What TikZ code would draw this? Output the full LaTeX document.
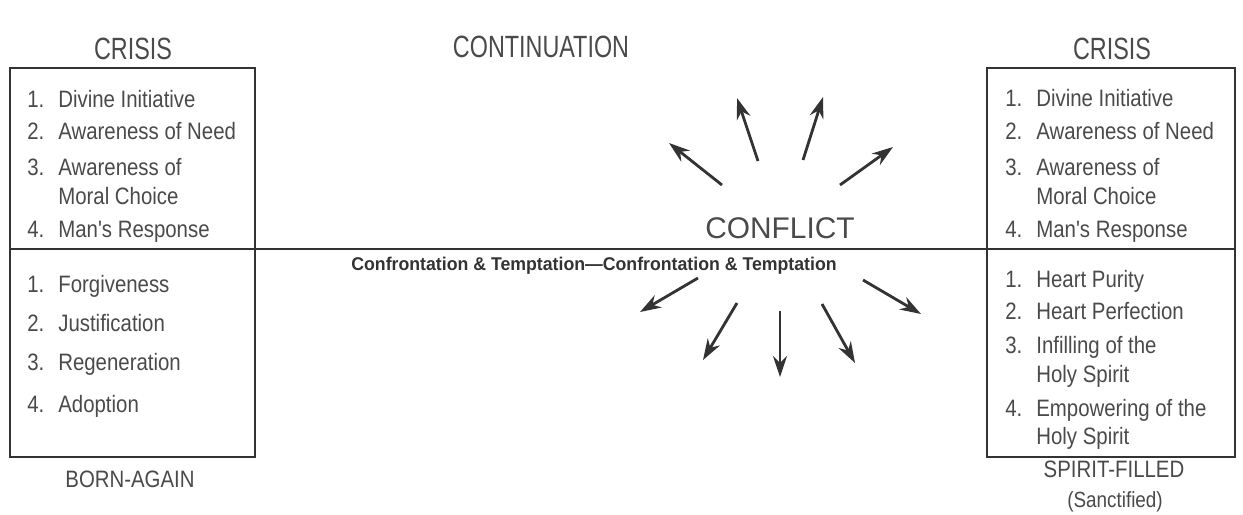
\documentclass[tikz,border=0pt]{standalone}
\usepackage{fontspec}
\setmainfont{Liberation Sans}
\newfontfamily\narrowfont{Liberation Sans}[FakeStretch=0.86]
\newfontfamily\headfont{Liberation Sans}[FakeStretch=0.76]
\newfontfamily\boldnarrow{Liberation Sans Bold}[FakeStretch=0.96]
\usetikzlibrary{arrows.meta}
\definecolor{inkgray}{HTML}{4A4A4A}
\definecolor{linegray}{HTML}{333333}

\begin{document}
\begin{tikzpicture}[x=0.02cm,y=-0.02cm,
    boxline/.style={draw=linegray,line width=1.1pt},
    item/.style={anchor=base west,inner sep=0pt,text=inkgray,
      font=\narrowfont\fontsize{13.5}{16}\selectfont},
    heading/.style={anchor=base,inner sep=0pt,text=inkgray,
      font=\headfont\fontsize{17.5}{20}\selectfont},
    footing/.style={anchor=base,inner sep=0pt,text=inkgray,
      font=\narrowfont\fontsize{13.5}{16}\selectfont},
    burst/.style={draw=linegray,line width=1.6pt,
      -{Stealth[length=12pt,width=8pt]}}]
\newcommand{\itm}[2]{\makebox[0.62cm][l]{#1}#2}
  \useasboundingbox (0,0) rectangle (1243,514);

  % Boxes
  \draw[boxline] (10,68) rectangle (255,457);
  \draw[boxline] (987,68) rectangle (1235,457);

  % Main line
  \draw[boxline] (10,249) -- (1235,249);

  % Headings
  \node[heading] (crisisL) at (133,59) {CRISIS};
  \node[heading] (crisisR) at (1112,59) {CRISIS};
  \node[heading] (contin) at (541,57) {CONTINUATION};
  \node[footing] (born) at (130,487) {BORN-AGAIN};
  \node[footing] (filled) at (1114,477) {SPIRIT-FILLED};
  \node[anchor=base,inner sep=0pt,text=inkgray,
    font=\narrowfont\fontsize{12.5}{15}\selectfont] (sanct) at (1115,507) {(Sanctified)};

  % Left crisis
  \node[item] (l1) at (27,107) {\itm{1.}{Divine Initiative}};
  \node[item] (l2) at (27,139) {\itm{2.}{Awareness of Need}};
  \node[item] (l3) at (27,175) {\itm{3.}{Awareness of}};
  \node[item] (l3b) at (58,204) {Moral Choice};
  \node[item] (l4) at (27,237) {\itm{4.}{Man's Response}};

  % Born-again
  \node[item] (b1) at (27,292) {\itm{1.}{Forgiveness}};
  \node[item] (b2) at (27,331) {\itm{2.}{Justification}};
  \node[item] (b3) at (27,370) {\itm{3.}{Regeneration}};
  \node[item] (b4) at (27,412) {\itm{4.}{Adoption}};

  % Right crisis
  \node[item] (r1) at (1005,106) {\itm{1.}{Divine Initiative}};
  \node[item] (r2) at (1005,139) {\itm{2.}{Awareness of Need}};
  \node[item] (r3) at (1005,175) {\itm{3.}{Awareness of}};
  \node[item] (r3b) at (1036,204) {Moral Choice};
  \node[item] (r4) at (1005,237) {\itm{4.}{Man's Response}};

  % Spirit-filled
  \node[item] (s1) at (1005,287) {\itm{1.}{Heart Purity}};
  \node[item] (s2) at (1005,319) {\itm{2.}{Heart Perfection}};
  \node[item] (s3) at (1005,353) {\itm{3.}{Infilling of the}};
  \node[item] (s3b) at (1036,382) {Holy Spirit};
  \node[item] (s4) at (1005,416) {\itm{4.}{Empowering of the}};
  \node[item] (s4b) at (1036,444) {Holy Spirit};

  % Conflict
  \node[anchor=base,inner sep=0pt,text=inkgray,
    font=\fontsize{17}{20}\selectfont] (conflict) at (780,238) {CONFLICT};
  \node[anchor=base,inner sep=0pt,text=linegray,
    font=\boldnarrow\fontsize{10.5}{12}\selectfont] (confront) at (594,270)
    {Confrontation \& Temptation\textemdash Confrontation \& Temptation};

  % Arrows
  \foreach \xa/\ya/\xb/\yb in {722/185/669/143, 758/161/737/98,
      803/160/823/97, 840/185/893/147, 698/278/640/312, 737/303/703/360,
      780/311/780/377, 822/304/855/363, 863/280/921/314}
    \draw[burst] (\xa,\ya) -- (\xb,\yb);
\end{tikzpicture}
\end{document}
